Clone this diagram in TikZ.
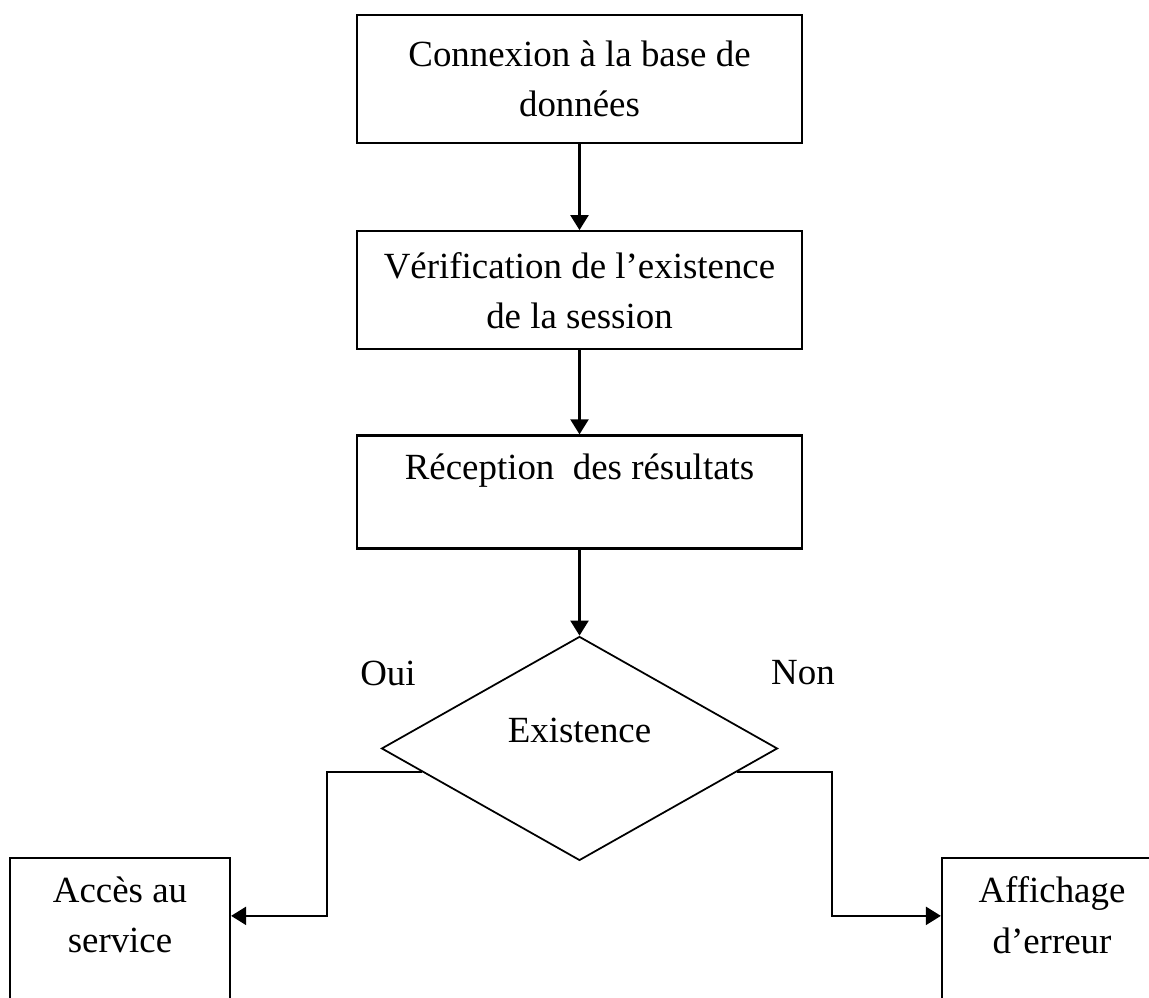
\documentclass[tikz,border=0pt]{standalone}
\usepackage{fontspec}
\setmainfont{Liberation Serif}
\usetikzlibrary{positioning,arrows.meta,shapes.geometric,calc}

\begin{document}
\begin{tikzpicture}[x=0.02cm,y=-0.02cm,>={Triangle[length=3mm,width=3.6mm]},node distance=1.72cm,
  every node/.style={font=\fontsize{21}{28.5}\selectfont},
  etape/.style={draw,line width=1.3pt,align=center,minimum width=8.9cm,inner sep=0pt},
  fin/.style={draw,line width=1.3pt,align=center,minimum width=4.4cm,minimum height=3.28cm,inner sep=0pt},
  test/.style={draw,diamond,line width=1pt,minimum width=7.92cm,minimum height=4.48cm,inner sep=0pt,
    text height=0.5cm,text depth=0.74cm},
  fleche/.style={->,line width=1.3pt}]
\useasboundingbox (0,0) rectangle (1149,997);
\node[etape,minimum height=2.56cm] (cnx) at (579.5,79) {Connexion à la base de\\données};
\node[etape,minimum height=2.36cm,below=of cnx] (verif) {Vérification de l’existence\\de la session};
\node[etape,minimum height=2.26cm,below=1.68cm of verif] (recep) {Réception~ des résultats\\\mbox{}};
\node[test,below=of recep] (exist) {Existence};
\node (oui) at (388,673) {Oui};
\node (non) at (803,673) {Non};
\node[fin] (acces) at (120,940) {Accès au\\service\\\mbox{}};
\node[fin] (erreur) at (1052,940) {Affichage\\d’erreur\\\mbox{}};
\draw[fleche] (cnx) -- (verif);
\draw[fleche] (verif) -- (recep);
\draw[fleche] (recep) -- (exist.north);
\draw[fleche] ($(exist.west)!0.21!(exist.south)$) -| ([xshift=1.92cm,yshift=-1.18cm]acces.north east) -- ([yshift=-1.18cm]acces.north east);
\draw[fleche] ($(exist.east)!0.21!(exist.south)$) -| ([xshift=-2.18cm,yshift=-1.18cm]erreur.north west) -- ([yshift=-1.18cm]erreur.north west);
\end{tikzpicture}
\end{document}
